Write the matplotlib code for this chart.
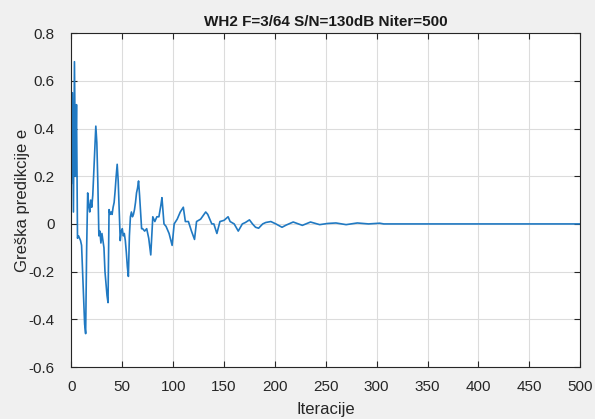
import matplotlib
matplotlib.use("Agg")
import matplotlib.pyplot as plt

plt.rcParams['font.family'] = ['Liberation Sans', 'DejaVu Sans']

iters = [0, 1, 2, 3, 4, 5, 6, 7, 8, 9, 10, 11, 12, 13, 14, 15, 16, 17, 18, 19,
         20, 21, 22, 23, 24, 25, 26, 27, 28, 29, 30, 31, 32, 33, 34, 35, 36, 37, 38, 39,
         40, 41, 42, 43, 44, 45, 46, 47, 48, 49, 50, 51, 52, 53, 54, 55, 56, 57, 58, 59,
         60, 61, 62, 63, 64, 65, 66, 67, 68, 69, 70, 72, 74, 76, 78, 80, 82, 84, 86, 88,
         89, 91, 93, 96, 99, 101, 104, 107, 110, 112, 115, 118, 121, 123, 127, 132, 134, 138, 140, 143,
         146, 150, 154, 156, 160, 164, 168, 171, 175, 178, 181, 184, 188, 191, 196, 201, 207, 211, 218, 227,
         235, 244, 252, 260, 270, 281, 292, 303, 307, 500]
err = [0.17, 0.55, 0.05, 0.68, 0.2, 0.5, -0.06, -0.05, -0.06, -0.07, -0.09, -0.2, -0.3, -0.42, -0.46, -0.1, 0.13, 0.08, 0.05, 0.1,
       0.07, 0.12, 0.22, 0.33, 0.41, 0.34, 0.17, -0.05, -0.03, -0.08, -0.04, -0.07, -0.1, -0.2, -0.25, -0.3, -0.33, 0.06, 0.04, 0.05,
       0.04, 0.07, 0.09, 0.14, 0.2, 0.25, 0.18, 0.05, -0.07, -0.03, -0.02, -0.05, -0.04, -0.07, -0.12, -0.18, -0.22, -0.05, 0.03, 0.05,
       0.03, 0.04, 0.06, 0.09, 0.13, 0.15, 0.18, 0.12, 0.05, -0.02, -0.02, -0.03, -0.02, -0.06, -0.13, 0.03, 0.01, 0.03, 0.03, 0.08,
       0.11, 0.0, -0.01, -0.04, -0.09, 0.0, 0.02, 0.05, 0.07, 0.01, 0.01, -0.03, -0.065, 0.01, 0.02, 0.05, 0.04, 0.0, 0.0, -0.04,
       0.01, 0.015, 0.03, 0.01, 0.0, -0.03, 0.0, 0.006, 0.017, 0.0, -0.014, -0.018, 0.0, 0.006, 0.01, 0.0, -0.014, -0.005, 0.008, -0.006,
       0.008, -0.003, 0.002, 0.004, -0.003, 0.004, 0.0, 0.003, 0.0, 0.0]

title = 'WH2 F=3/64 S/N=130dB Niter=500'
xlabel = 'Iteracije'
ylabel = 'Greška predikcije e'
xticks = [0, 50, 100, 150, 200, 250, 300, 350, 400, 450, 500]
yticks = [-0.6, -0.4, -0.2, 0, 0.2, 0.4, 0.6, 0.8]
ytick_labels = ['-0.6', '-0.4', '-0.2', '0', '0.2', '0.4', '0.6', '0.8']

fig = plt.figure(figsize=(5.95, 4.19), dpi=100, facecolor='#F0F0F0')
ax = fig.add_axes([0.120, 0.124, 0.855, 0.797])
ax.set_facecolor('white')
ax.plot(iters, err, color='#2079c2', linewidth=1.2)
ax.set_xlim(0, 500)
ax.set_ylim(-0.6, 0.8)
ax.set_xticks(xticks)
ax.set_yticks(yticks)
ax.set_yticklabels(ytick_labels)
ax.grid(True, color='#DCDCDC', linewidth=0.8)
ax.set_axisbelow(True)
ax.tick_params(direction='in', top=True, right=True, length=4, labelsize=11, colors='#262626', labelcolor='#262626')
ax.tick_params(axis='y', pad=12)
ax.tick_params(axis='x', pad=9)
for s in ax.spines.values():
    s.set_color('#262626')
    s.set_linewidth(0.8)
ax.set_title(title, fontsize=11, fontweight='bold', color='#1a1a1a', pad=5)
ax.set_xlabel(xlabel, fontsize=12, color='#262626', labelpad=6)
ax.set_ylabel(ylabel, fontsize=12, color='#262626')
ax.yaxis.set_label_coords(-0.082, 0.5)
fig.savefig('out.png', dpi=100, facecolor=fig.get_facecolor())
